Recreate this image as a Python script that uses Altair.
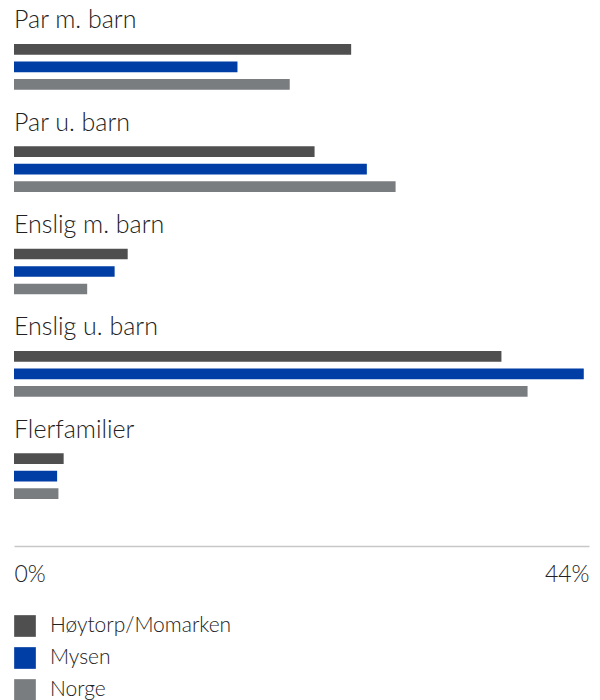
import altair as alt
import pandas as pd

categories = ["Par m. barn", "Par u. barn", "Enslig m. barn", "Enslig u. barn", "Flerfamilier"]
series = ["Høytorp/Momarken", "Mysen", "Norge"]
colors = ["#4f4f4f", "#003da5", "#7a7d80"]
hoytorp = [25.8, 23.0, 8.7, 37.3, 3.8]
mysen = [17.1, 27.0, 7.7, 43.6, 3.3]
norge = [21.1, 29.2, 5.6, 39.3, 3.4]
axis_values = [0, 44]

rows = []
for i, c in enumerate(categories):
    for s, vals in zip(series, [hoytorp, mysen, norge]):
        rows.append({"kategori": c, "serie": s, "verdi": vals[i]})
df = pd.DataFrame(rows)
labels_df = pd.DataFrame({"kategori": categories})

FONT = "Lato"
W = 300

y_enc = alt.Y("kategori:N", sort=categories, axis=None,
              scale=alt.Scale(paddingInner=0.4873, paddingOuter=0.3965))

bars = alt.Chart(df).mark_bar().encode(
    x=alt.X("verdi:Q", scale=alt.Scale(domain=[0, 44], nice=False, zero=True),
            axis=alt.Axis(values=axis_values, title=None, grid=False, ticks=False,
                          labelExpr="datum.value + '%'", labelFlush=True,
                          labelFont=FONT, labelFontWeight=W, labelFontSize=23,
                          labelColor="#222222", labelPadding=17, labelBaseline="top",
                          domainColor="#c8c8c8", domainWidth=1.5, offset=3)),
    y=y_enc,
    yOffset=alt.YOffset("serie:N", sort=series,
                        scale=alt.Scale(paddingInner=0.39, paddingOuter=0.195)),
    color=alt.Color("serie:N", sort=series,
                    scale=alt.Scale(domain=series, range=colors),
                    legend=alt.Legend(title=None, orient="none", legendX=0, legendY=615,
                                      symbolType="square", symbolSize=470,
                                      symbolStrokeWidth=0, symbolOpacity=1,
                                      labelFont=FONT, labelFontWeight=W,
                                      labelFontSize=21, labelColor="#222222",
                                      labelLimit=400,
                                      labelOffset=14, rowPadding=10, padding=0,
                                      direction="vertical")),
)

texts = alt.Chart(labels_df).mark_text(
    align="left", baseline="alphabetic", dy=-38.5, font=FONT, fontWeight=W,
    fontSize=25, color="#222222"
).encode(
    x=alt.value(0),
    y=alt.Y("kategori:N", sort=categories, axis=None,
            scale=alt.Scale(paddingInner=0.4873, paddingOuter=0.3965)),
    text="kategori:N",
)

chart = alt.layer(bars, texts).properties(
    width=575, height=543,
    padding={"left": 14, "top": 0, "right": 11, "bottom": 0},
).configure(background="white").configure_view(stroke=None)

chart.save("out.html", embed_options={"renderer": "svg", "actions": False})
